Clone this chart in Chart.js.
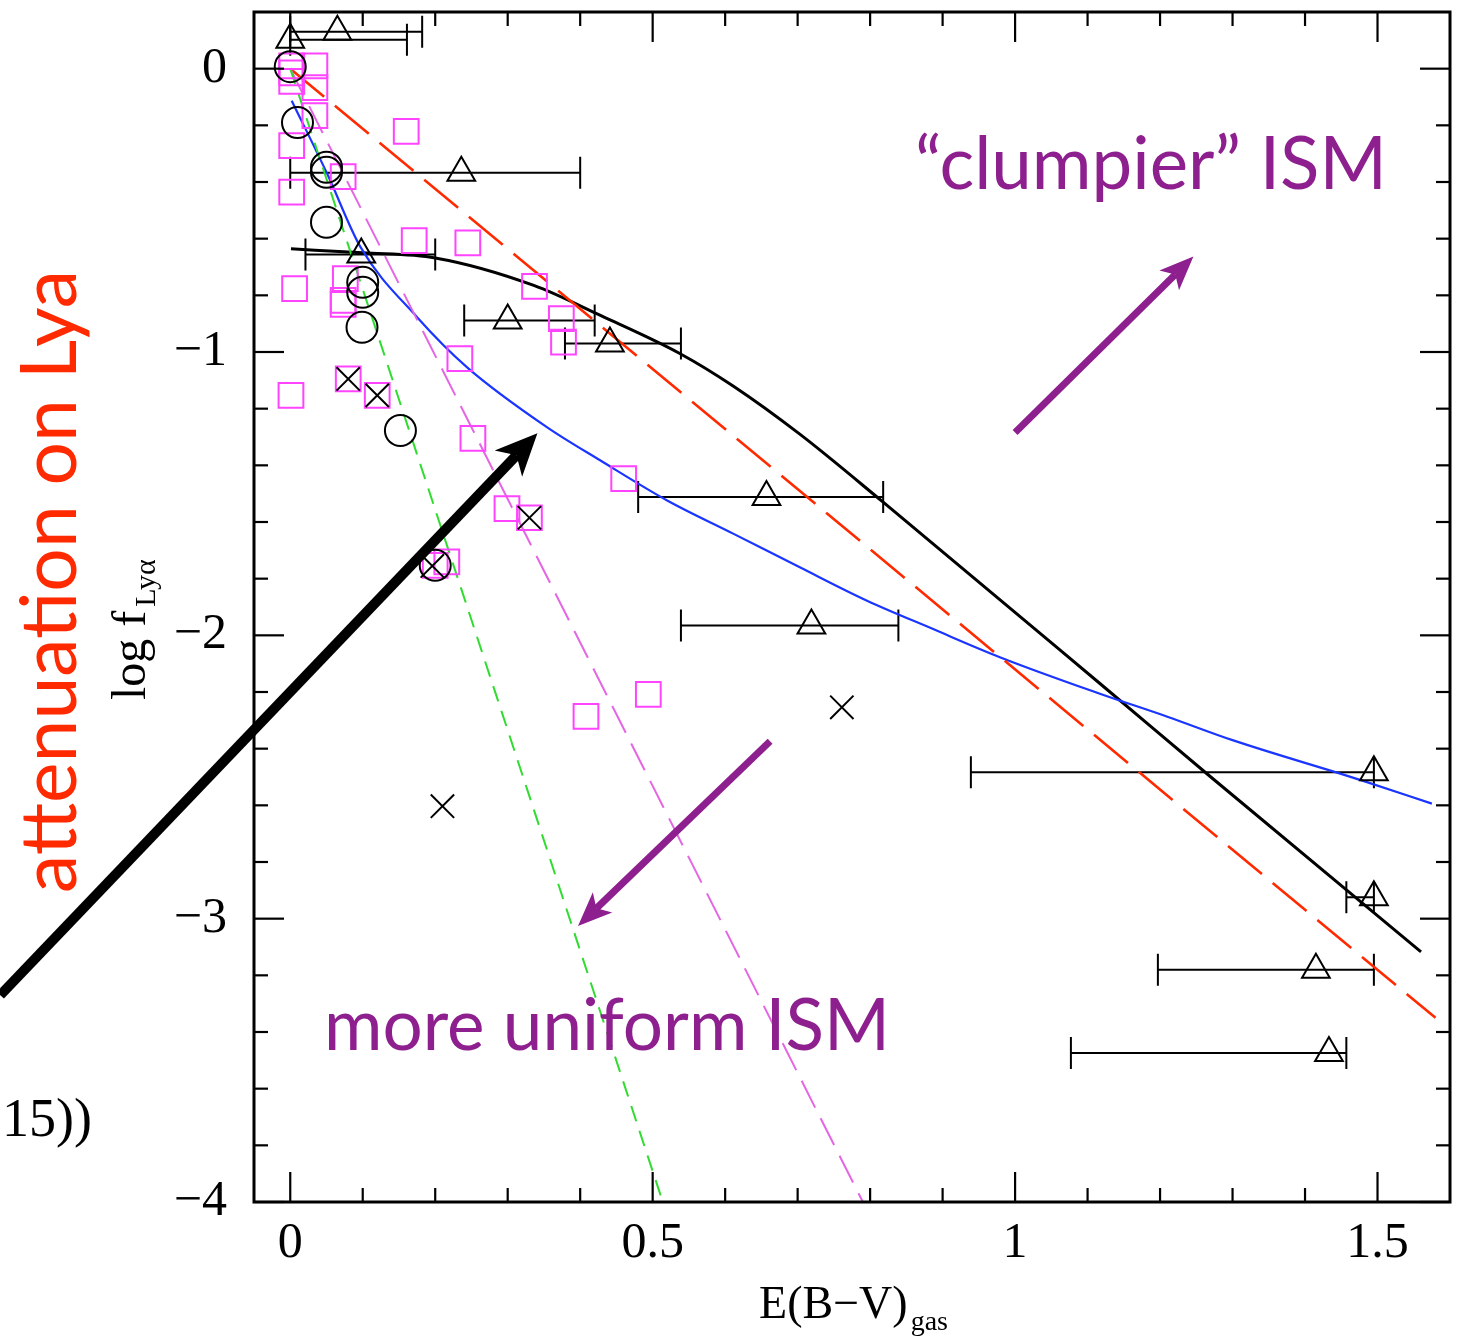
<!DOCTYPE html>
<html>
<head>
<meta charset="utf-8">
<script src="https://cdn.jsdelivr.net/npm/chart.js@4.4.1/dist/chart.umd.min.js"></script>
<style>
  html, body { margin: 0; padding: 0; background: #ffffff; overflow: hidden; }
  #wrap { position: relative; width: 1460px; height: 1337px; }
  canvas { display: block; }
</style>
</head>
<body>
<div id="wrap"><canvas id="c" width="1460" height="1337"></canvas></div>
<script>
// ---------------- data ----------------
// open triangles with horizontal error bars
const triX   = [0.000, 0.065, 0.236, 0.098, 0.300, 0.441, 0.657, 0.719, 1.495, 1.495, 1.415, 1.433];
const triY   = [0.102, 0.130, -0.367, -0.656, -0.889, -0.970, -1.512, -1.965, -2.483, -2.924, -3.180, -3.474];
const triXLo = [0.000, 0.000, 0.000, 0.021, 0.240, 0.379, 0.480, 0.539, 0.939, 1.457, 1.197, 1.077];
const triXHi = [0.161, 0.182, 0.400, 0.200, 0.420, 0.539, 0.818, 0.839, 1.495, 1.495, 1.495, 1.457];

// open circles
const circX = [0.000, 0.010, 0.050, 0.050, 0.050, 0.100, 0.100, 0.099, 0.152, 0.200];
const circY = [0.007, -0.190, -0.348, -0.366, -0.542, -0.754, -0.789, -0.913, -1.277, -1.753];

// crosses
const crossX = [0.080, 0.120, 0.330, 0.196, 0.761, 0.210];
const crossY = [-1.095, -1.153, -1.585, -1.755, -2.254, -2.603];

// magenta open squares
const sqX = [0.002, 0.002, 0.002, 0.034, 0.034, 0.034, 0.002, 0.002, 0.160, 0.073, 0.171, 0.245, 0.006, 0.076, 0.073, 0.073,
             0.337, 0.374, 0.377, 0.234, 0.001, 0.080, 0.120, 0.252, 0.299, 0.330, 0.460, 0.200, 0.216, 0.408, 0.494];
const sqY = [0.010, -0.015, -0.045, 0.010, -0.067, -0.166, -0.272, -0.436, -0.221, -0.381, -0.607, -0.615, -0.776, -0.741, -0.818, -0.832,
             -0.768, -0.882, -0.965, -1.023, -1.153, -1.095, -1.153, -1.305, -1.553, -1.585, -1.447, -1.753, -1.741, -2.286, -2.208];

// model curves
const blackX = [0.001, 0.100, 0.200, 0.336, 0.428, 0.538, 0.611, 0.703, 0.818, 1.117, 1.270, 1.560];
const blackY = [-0.636, -0.650, -0.668, -0.765, -0.871, -1.006, -1.120, -1.290, -1.530, -2.170, -2.500, -3.117];
const blueX  = [0.002, 0.051, 0.097, 0.175, 0.244, 0.354, 0.428, 0.520, 0.611, 0.703, 0.795, 0.887, 0.979, 1.117, 1.211, 1.300, 1.477, 1.575];
const blueY  = [-0.113, -0.371, -0.630, -0.877, -1.054, -1.265, -1.383, -1.524, -1.641, -1.760, -1.877, -1.978, -2.077, -2.206, -2.288, -2.370, -2.511, -2.594];
const redX   = [0.000, 1.580];
const redY   = [0.000, -3.350];
const greenX = [0.000, 0.514];
const greenY = [0.000, -4.000];
const violetX = [0.000, 0.790];
const violetY = [0.000, -4.000];

// axis ticks
const xMajor = [0, 0.5, 1, 1.5];
const xMinor = [0.1, 0.2, 0.3, 0.4, 0.6, 0.7, 0.8, 0.9, 1.1, 1.2, 1.3, 1.4];
const yMajor = [-4, -3, -2, -1, 0];
const yMinor = [-3.8, -3.6, -3.4, -3.2, -2.8, -2.6, -2.4, -2.2, -1.8, -1.6, -1.4, -1.2, -0.8, -0.6, -0.4, -0.2];

// annotations (data coordinates)
const blackArrow   = { x1: -0.400, y1: -3.270, x2: 0.341, y2: -1.287 };
const clumpyArrow  = { x1: 1.000, y1: -1.284, x2: 1.246, y2: -0.663 };
const uniformArrow = { x1: 0.662, y1: -2.374, x2: 0.397, y2: -3.026 };

const pts = (xs, ys) => xs.map((v, i) => ({ x: v, y: ys[i] }));

// ---------------- plugins ----------------
const errorBars = {
  id: 'errorBars',
  beforeDatasetsDraw(chart) {
    const { ctx, scales: { x, y } } = chart;
    ctx.save();
    ctx.strokeStyle = '#000';
    ctx.lineWidth = 2;
    triX.forEach((v, i) => {
      const py = y.getPixelForValue(triY[i]);
      const lo = x.getPixelForValue(triXLo[i]);
      const hi = x.getPixelForValue(triXHi[i]);
      ctx.beginPath();
      ctx.moveTo(lo, py); ctx.lineTo(hi, py);
      ctx.moveTo(lo, py - 16); ctx.lineTo(lo, py + 16);
      ctx.moveTo(hi, py - 16); ctx.lineTo(hi, py + 16);
      ctx.stroke();
    });
    ctx.restore();
  }
};

function drawArrow(ctx, x1, y1, x2, y2, lw, headLen, headW, color, notch) {
  const a = Math.atan2(y2 - y1, x2 - x1);
  const c = Math.cos(a), s = Math.sin(a);
  const bx = x2 - headLen * c, by = y2 - headLen * s;
  const nx = x2 - headLen * notch * c, ny = y2 - headLen * notch * s;
  ctx.save();
  ctx.strokeStyle = color; ctx.fillStyle = color;
  ctx.lineWidth = lw; ctx.lineCap = 'butt';
  ctx.beginPath(); ctx.moveTo(x1, y1); ctx.lineTo(nx, ny); ctx.stroke();
  ctx.beginPath();
  ctx.moveTo(x2, y2);
  ctx.lineTo(bx - headW * s, by + headW * c);
  ctx.lineTo(nx, ny);
  ctx.lineTo(bx + headW * s, by - headW * c);
  ctx.closePath(); ctx.fill();
  ctx.restore();
}

function fitText(ctx, txt, family, targetW) {
  ctx.font = '100px ' + family;
  const w = ctx.measureText(txt).width;
  return 100 * targetW / w;
}

const frameAndNotes = {
  id: 'frameAndNotes',
  afterDraw(chart) {
    const { ctx, chartArea: a, scales: { x, y } } = chart;
    ctx.save();
    // ticks (inward, all four sides)
    ctx.strokeStyle = '#000';
    ctx.lineWidth = 2.2;
    const seg = (x1, y1, x2, y2) => { ctx.beginPath(); ctx.moveTo(x1, y1); ctx.lineTo(x2, y2); ctx.stroke(); };
    xMajor.forEach(v => { const p = x.getPixelForValue(v); seg(p, a.bottom, p, a.bottom - 30); seg(p, a.top, p, a.top + 30); });
    xMinor.forEach(v => { const p = x.getPixelForValue(v); seg(p, a.bottom, p, a.bottom - 14); seg(p, a.top, p, a.top + 14); });
    yMajor.forEach(v => { const p = y.getPixelForValue(v); seg(a.left, p, a.left + 30, p); seg(a.right, p, a.right - 30, p); });
    yMinor.forEach(v => { const p = y.getPixelForValue(v); seg(a.left, p, a.left + 14, p); seg(a.right, p, a.right - 14, p); });
    ctx.lineWidth = 3;
    ctx.strokeRect(a.left, a.top, a.right - a.left, a.bottom - a.top);

    // axis titles
    ctx.fillStyle = '#000';
    ctx.textBaseline = 'alphabetic';
    ctx.textAlign = 'left';
    ctx.font = '46px "Liberation Serif"';
    const t1 = 'E(B\u2212V)';
    const w1 = ctx.measureText(t1).width;
    ctx.font = '28px "Liberation Serif"';
    const w2 = ctx.measureText('gas').width;
    const xStart = 852 - (w1 + w2) / 2;
    ctx.font = '46px "Liberation Serif"';
    ctx.fillText(t1, xStart, 1318);
    ctx.font = '28px "Liberation Serif"';
    ctx.fillText('gas', xStart + w1 + 3, 1330);

    ctx.save();
    ctx.translate(145, 700);
    ctx.rotate(-Math.PI / 2);
    ctx.font = '48px "Liberation Serif"';
    ctx.fillText('log f', 0, 0);
    const wl = ctx.measureText('log f').width;
    ctx.font = '30px "Liberation Serif"';
    ctx.fillText('Ly\u03b1', wl + 4, 10);
    ctx.restore();

    // left cut-off formula fragment
    ctx.font = '54px "Liberation Serif"';
    ctx.fillText('15))', 2, 1136);

    // arrows
    drawArrow(ctx, x.getPixelForValue(blackArrow.x1), y.getPixelForValue(blackArrow.y1),
              x.getPixelForValue(blackArrow.x2), y.getPixelForValue(blackArrow.y2), 10, 42, 19, '#000', 0.72);
    drawArrow(ctx, x.getPixelForValue(clumpyArrow.x1), y.getPixelForValue(clumpyArrow.y1),
              x.getPixelForValue(clumpyArrow.x2), y.getPixelForValue(clumpyArrow.y2), 7, 34, 14, '#8e1f8e', 0.75);
    drawArrow(ctx, x.getPixelForValue(uniformArrow.x1), y.getPixelForValue(uniformArrow.y1),
              x.getPixelForValue(uniformArrow.x2), y.getPixelForValue(uniformArrow.y2), 7, 34, 14, '#8e1f8e', 0.75);

    // annotation texts
    const fam = 'Lato';
    ctx.fillStyle = '#8e1f8e';
    let fs = fitText(ctx, '\u201cclumpier\u201d ISM', fam, 472);
    ctx.font = fs + 'px ' + fam;
    ctx.fillText('\u201cclumpier\u201d ISM', 915, 189);
    fs = fitText(ctx, 'more uniform ISM', fam, 566);
    ctx.font = fs + 'px ' + fam;
    ctx.fillText('more uniform ISM', 324, 1050);

    ctx.save();
    ctx.translate(76, 893);
    ctx.rotate(-Math.PI / 2);
    ctx.fillStyle = '#ff2a00';
    fs = fitText(ctx, 'attenuation on Lya', fam, 623);
    ctx.font = fs + 'px ' + fam;
    ctx.fillText('attenuation on Lya', 0, 0);
    ctx.restore();

    ctx.restore();
  }
};

// ---------------- chart ----------------
const lineDS = (label, xs, ys, color, width, dash, mono) => ({
  label, data: pts(xs, ys), showLine: true, borderColor: color, borderWidth: width,
  borderDash: dash, pointRadius: 0, fill: false, order: 10,
  cubicInterpolationMode: mono ? 'monotone' : 'default', tension: 0
});
const markDS = (label, xs, ys, style, r, color, order) => ({
  label, data: pts(xs, ys), showLine: false, pointStyle: style, pointRadius: r,
  pointBorderColor: color, pointBackgroundColor: 'rgba(0,0,0,0)', pointBorderWidth: 2,
  borderColor: color, backgroundColor: 'rgba(0,0,0,0)', order
});

const noPad = s => { s.paddingTop = 0; s.paddingBottom = 0; s.paddingLeft = 0; s.paddingRight = 0; };

new Chart(document.getElementById('c'), {
  type: 'scatter',
  data: {
    datasets: [
      lineDS('green model', greenX, greenY, '#2fdc2f', 2, [16, 10], false),
      lineDS('violet model', violetX, violetY, '#e466e4', 2, [30, 12], false),
      lineDS('red model', redX, redY, '#ff2a00', 2.6, [44, 14], false),
      lineDS('blue model', blueX, blueY, '#1a35ff', 2.2, [], true),
      lineDS('black model', blackX, blackY, '#000000', 3, [], true),
      markDS('squares', sqX, sqY, 'rect', 17.5, '#ff44ff', 4),
      markDS('circles', circX, circY, 'circle', 15.5, '#000000', 3),
      markDS('crosses', crossX, crossY, 'crossRot', 16.5, '#000000', 2),
      markDS('triangles', triX, triY, 'triangle', 16, '#000000', 1)
    ]
  },
  options: {
    responsive: false,
    animation: false,
    events: [],
    layout: { autoPadding: false, padding: { top: 12, right: 10, left: 0, bottom: 0 } },
    plugins: { legend: { display: false }, tooltip: { enabled: false } },
    scales: {
      x: {
        type: 'linear', min: -0.05, max: 1.6,
        afterFit(s) { s.height = 135; noPad(s); },
        grid: { display: false, drawTicks: false },
        border: { display: false },
        ticks: {
          stepSize: 0.5, includeBounds: false, autoSkip: false, maxRotation: 0,
          padding: 12, color: '#000',
          font: { family: '"Liberation Serif"', size: 50 },
          callback: v => String(v)
        }
      },
      y: {
        type: 'linear', min: -4, max: 0.2,
        afterFit(s) { s.width = 254; noPad(s); },
        grid: { display: false, drawTicks: false },
        border: { display: false },
        ticks: {
          stepSize: 1, includeBounds: false, autoSkip: false,
          padding: 27, color: '#000',
          font: { family: '"Liberation Serif"', size: 50 },
          callback: v => (v < 0 ? '\u2212' + Math.abs(v) : String(v))
        }
      }
    }
  },
  plugins: [errorBars, frameAndNotes]
});
</script>
</body>
</html>
